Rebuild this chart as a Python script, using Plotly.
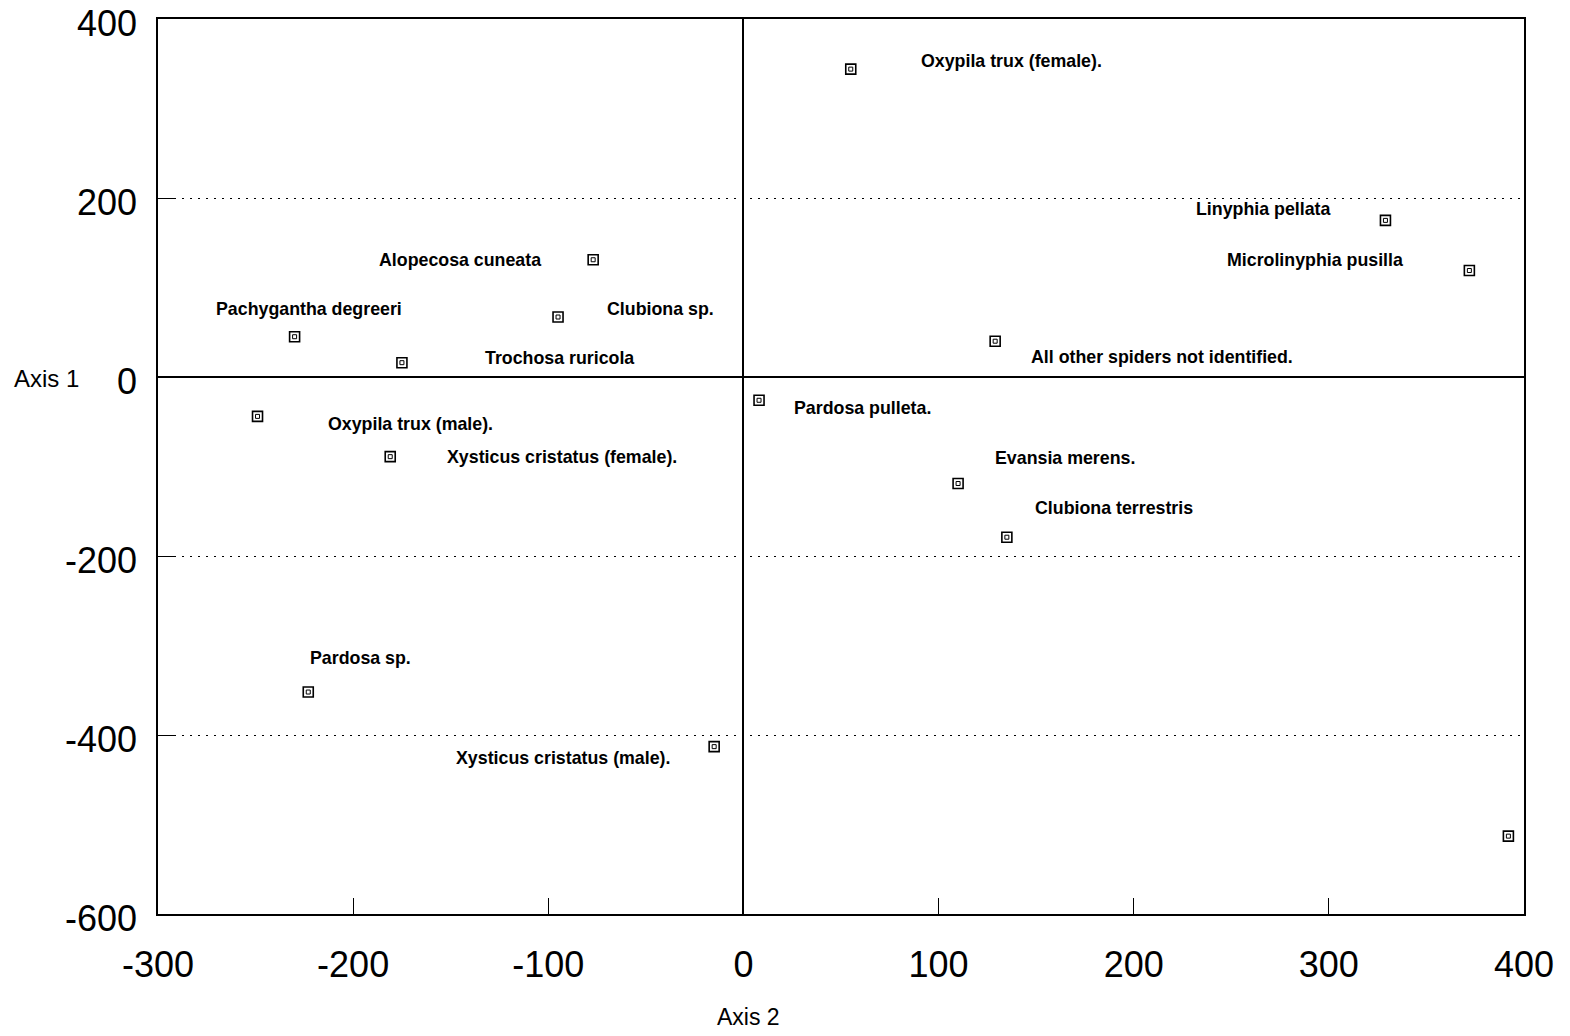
import plotly.graph_objects as go

# Species labels and ordination scores (Axis 2 = x, Axis 1 = y)
species = [
    "Oxypila trux (female).", "Linyphia pellata", "Microlinyphia pusilla",
    "All other spiders not identified.", "Pardosa pulleta.", "Evansia merens.",
    "Clubiona terrestris", "", "Alopecosa cuneata", "Clubiona sp.",
    "Pachygantha degreeri", "Trochosa ruricola", "Oxypila trux (male).",
    "Xysticus cristatus (female).", "Pardosa sp.", "Xysticus cristatus (male).",
]
axis2 = [55, 329, 372, 129, 8, 110, 135, 392, -77, -95, -230, -175, -249, -181, -223, -15]
axis1 = [344, 175, 119, 40, -26, -119, -179, -513, 131, 67, 45, 16, -44, -89, -352, -413]

# label offsets in pixels relative to each marker (dx, dy up)
label_dx = [161, -122, -154, 167, 103, 107, 107, 0, -133, 102, 14, 158, 153, 172, 52, -151]
label_dy = [8, 11, 11, -16, -8, 26, 29, 0, 0, 8, 28, 5, -8, 0, 34, -11]

xticks = [-300, -200, -100, 0, 100, 200, 300, 400]
yticks = [400, 200, 0, -200, -400, -600]

fig = go.Figure()
fig.add_trace(go.Scatter(
    x=axis2, y=axis1, mode="markers",
    marker=dict(symbol="square-open", size=10, color="black", line=dict(width=1.6, color="black")),
    hoverinfo="skip", showlegend=False, cliponaxis=False))
fig.add_trace(go.Scatter(
    x=axis2, y=axis1, mode="markers",
    marker=dict(symbol="square-open", size=4, color="black", line=dict(width=1, color="black")),
    hoverinfo="skip", showlegend=False, cliponaxis=False))

for name, x, y, dx, dy in zip(species, axis2, axis1, label_dx, label_dy):
    if not name:
        continue
    fig.add_annotation(x=x, y=y, text="<b>" + name + "</b>", showarrow=False, xshift=dx, yshift=dy,
                       font=dict(family="Liberation Sans", size=17.8, color="black"),
                       xanchor="center", yanchor="middle")

fig.add_annotation(xref="paper", yref="paper", x=-0.107, y=0.598, text="Axis 1", showarrow=False,
                   xanchor="left", yanchor="middle",
                   font=dict(family="Liberation Sans", size=24, color="black"))
fig.add_annotation(xref="paper", yref="paper", x=0.432, y=-0.115, text="Axis 2", showarrow=False,
                   xanchor="center", yanchor="middle",
                   font=dict(family="Liberation Sans", size=23, color="black"))

fig.update_layout(
    width=1570, height=1036,
    margin=dict(l=150, r=54, t=11, b=130, autoexpand=False),
    paper_bgcolor="white", plot_bgcolor="white",
    font=dict(family="Liberation Sans", color="black"),
    xaxis=dict(range=[-300, 400], tickvals=xticks, ticktext=[str(v) for v in xticks],
               showgrid=False, zeroline=True, zerolinecolor="black", zerolinewidth=1.5,
               showline=True, linecolor="black", linewidth=1.5, mirror=True,
               ticks="inside", ticklen=16, tickcolor="black", tickwidth=1,
               tickfont=dict(size=36, family="Liberation Sans"), ticklabelstandoff=18,
               automargin=False, ticklabeloverflow="allow"),
    yaxis=dict(range=[-600, 400], tickvals=yticks, ticktext=[str(v) for v in yticks],
               showgrid=True, gridcolor="black", gridwidth=1.2, griddash="2px,6px",
               zeroline=True, zerolinecolor="black", zerolinewidth=1.5,
               showline=True, linecolor="black", linewidth=1.5, mirror=True,
               ticks="inside", ticklen=16, tickcolor="black", tickwidth=1,
               tickfont=dict(size=36, family="Liberation Sans"), ticklabelstandoff=12,
               ticklabelshift=4,
               automargin=False, ticklabeloverflow="allow"),
)

fig.write_html("out.html")
